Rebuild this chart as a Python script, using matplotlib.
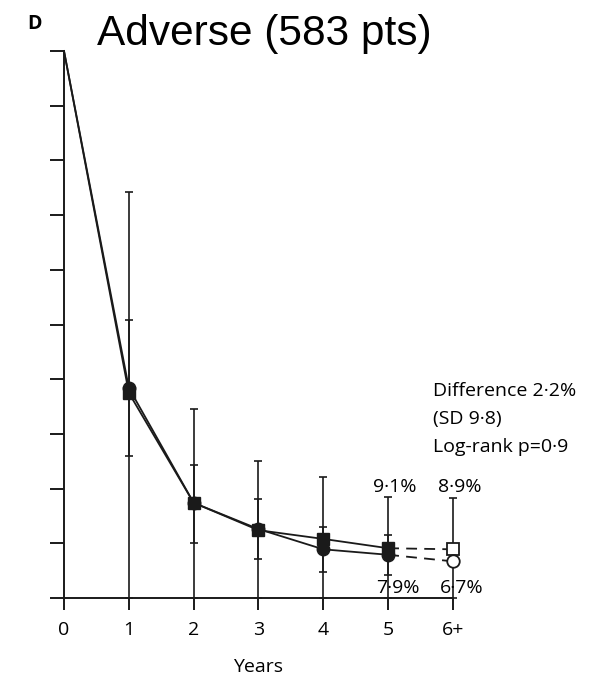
import numpy as np
import matplotlib
matplotlib.use("Agg")
import matplotlib.pyplot as plt

# values (% event rate by year)
years = [0, 1, 2, 3, 4, 5]
year_labels = ["0", "1", "2", "3", "4", "5", "6+"]

sq_vals = [100, 37.5, 17.4, 12.4, 10.8, 9.1]
sq_hi = [np.nan, 74.2, 34.6, 25.0, 22.1, 18.4]
sq_lo = [np.nan, 0, 0, 0, 0, 0]
sq_last, sq_last_hi, sq_last_lo = 8.9, 18.2, 0

ci_vals = [100, 38.4, 17.4, 12.6, 8.9, 7.9]
ci_hi = [np.nan, 50.8, 24.4, 18.1, 13.0, 11.5]
ci_lo = [np.nan, 26.0, 10.0, 7.1, 4.75, 4.2]
ci_last = 6.7

W, H = 590, 677
fig = plt.figure(figsize=(W / 100, H / 100), dpi=100)
ax = fig.add_axes([64 / W, (H - 598) / H, 6.8 * 64.83 / W, 547 / H])
ax.set_xlim(0, 6.8)
ax.set_ylim(0, 100)

lw = 1.3
k = "#1a1a1a"
afont = "Open Sans"
fs = 14

def err(vals, lo, hi):
    v = np.array(vals, float)
    return [v - np.array(lo, float), np.array(hi, float) - v]

# error bars
ax.errorbar(years, sq_vals, yerr=err(sq_vals, sq_lo, sq_hi), fmt="none",
            ecolor=k, elinewidth=1.2, capsize=3, capthick=1.2, clip_on=False)
ax.errorbar(years, ci_vals, yerr=err(ci_vals, ci_lo, ci_hi), fmt="none",
            ecolor=k, elinewidth=1.2, capsize=3, capthick=1.2, clip_on=False)
ax.errorbar([6], [sq_last], yerr=[[sq_last - sq_last_lo], [sq_last_hi - sq_last]],
            fmt="none", ecolor=k, elinewidth=1.2, capsize=3, capthick=1.2, clip_on=False)

# solid curves
ax.plot(years, sq_vals, color=k, lw=lw, clip_on=False)
ax.plot(years, ci_vals, color=k, lw=lw, clip_on=False)
ax.plot(years[1:], ci_vals[1:], "o", color=k, ms=9, clip_on=False, zorder=3)
ax.plot(years[1:], sq_vals[1:], "s", color=k, ms=8, clip_on=False, zorder=3)

# dashed extrapolation to 6+
ax.plot([5, 6], [sq_vals[-1], sq_last], color=k, lw=lw, ls=(0, (6, 4)), clip_on=False)
ax.plot([5, 6], [ci_vals[-1], ci_last], color=k, lw=lw, ls=(0, (6, 4)), clip_on=False)
ax.plot([6], [sq_last], "s", mfc="white", mec=k, mew=1.3, ms=8, clip_on=False, zorder=4)
ax.plot([6], [ci_last], "o", mfc="white", mec=k, mew=1.3, ms=9, clip_on=False, zorder=4)

# annotations
ax.text(5.1, 19.4, "9·1%", ha="center", va="baseline", fontsize=fs, family=afont)
ax.text(6.1, 19.4, "8·9%", ha="center", va="baseline", fontsize=fs, family=afont)
ax.text(5.15, 0.9, "7·9%", ha="center", va="baseline", fontsize=fs, family=afont)
ax.text(6.14, 0.9, "6·7%", ha="center", va="baseline", fontsize=fs, family=afont)
ax.text(5.69, 36.9, "Difference 2·2%", ha="left", va="baseline", fontsize=fs, family=afont)
ax.text(5.69, 31.8, "(SD 9·8)", ha="left", va="baseline", fontsize=fs, family=afont)
ax.text(5.69, 26.7, "Log-rank p=0·9", ha="left", va="baseline", fontsize=fs, family=afont)

# axes styling
for s in ["top", "right"]:
    ax.spines[s].set_visible(False)
ax.spines["left"].set_bounds(0, 100)
ax.spines["bottom"].set_bounds(0, 6)
for s in ["left", "bottom"]:
    ax.spines[s].set_linewidth(1.4)
    ax.spines[s].set_color(k)
ax.set_xticks(range(7))
ax.set_xticklabels(year_labels, fontsize=fs, family=afont)
ax.set_yticks(np.arange(0, 101, 10))
ax.set_yticklabels([])
ax.tick_params(axis="x", length=8.6, width=1.4, pad=8, color=k)
ax.tick_params(axis="y", length=10, width=1.4, color=k)
ax.set_xlabel("Years", fontsize=fs, family=afont)
ax.xaxis.set_label_coords(3 / 6.8, -0.11)

fig.text(97 / W, 1 - 45 / H, "Adverse (583 pts)", fontsize=30.5,
         family="Liberation Sans", va="baseline", ha="left")
fig.text(27 / W, 1 - 29 / H, "D", fontsize=14, family=afont, weight="bold",
         va="baseline", ha="left")

fig.savefig("out.png", dpi=100)
